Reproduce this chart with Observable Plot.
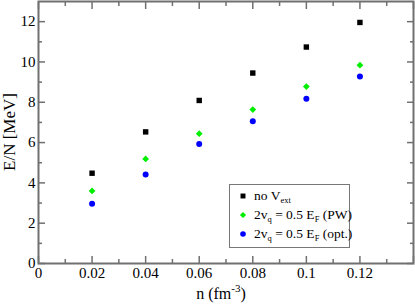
<!DOCTYPE html>
<html><head><meta charset="utf-8">
<script src="https://cdn.jsdelivr.net/npm/d3@7"></script>
<script src="https://cdn.jsdelivr.net/npm/@observablehq/plot@0.6"></script>
<style>
body{margin:0;background:#fff;}
#c{position:relative;width:415px;height:305px;font-family:'Liberation Serif','Times New Roman',serif;}
#c svg text{font-family:'Liberation Serif','Times New Roman',serif !important;}
#legend{position:absolute;left:229px;top:184px;width:119px;height:62px;border:1.5px solid #777;background:#fff;font-size:13.5px;color:#000;}
.row{position:absolute;left:0;height:19px;line-height:19px;white-space:nowrap;}
.row svg{position:absolute;left:8px;top:5px;}
.row span{position:absolute;left:24px;top:0;}
sub{font-size:8.5px;vertical-align:-3px;line-height:0;}
</style></head>
<body><div id="c"></div>
<script>
const density = [0.02, 0.04, 0.06, 0.08, 0.10, 0.12];
const noVext = [4.48, 6.53, 8.09, 9.45, 10.74, 11.96];
const pw     = [3.60, 5.19, 6.44, 7.64, 8.78, 9.84];
const opt    = [2.97, 4.41, 5.93, 7.06, 8.17, 9.28];
const xMajor = [0, 0.02, 0.04, 0.06, 0.08, 0.10, 0.12, 0.14];
const xMinor = [0.01, 0.03, 0.05, 0.07, 0.09, 0.11, 0.13];
const xLabels = ["0", "0.02", "0.04", "0.06", "0.08", "0.1", "0.12", ""];
const yMajor = [0, 2, 4, 6, 8, 10, 12];
const yMinor = [1, 3, 5, 7, 9, 11];
const yLabels = ["0", "2", "4", "6", "8", "10", "12"];
const series = [
  {name: "no V_ext", values: noVext, color: "#000000", symbol: "square"},
  {name: "2v_q = 0.5 E_F (PW)", values: pw, color: "#00ee00", symbol: "diamond2"},
  {name: "2v_q = 0.5 E_F (opt.)", values: opt, color: "#0000ff", symbol: "circle"}
];
const rows = series.flatMap(s => density.map((n, i) => ({n, e: s.values[i], s: s.name, color: s.color, symbol: s.symbol})));

const gray = "#707070";
const xfmt = d => xLabels[xMajor.indexOf(d)] ?? "";
const yfmt = d => yLabels[yMajor.indexOf(d)] ?? "";
const none = () => "";
const tick = {stroke: gray, strokeWidth: 1.5, label: null, tickFormat: none};
const font = "'Liberation Serif', 'Times New Roman', serif";

const plot = Plot.plot({
  width: 415, height: 305,
  marginLeft: 38, marginRight: 2, marginTop: 1, marginBottom: 42,
  style: {fontFamily: font, fontSize: "15px", background: "#fff", color: "#000"},
  x: {domain: [0, 0.14]},
  y: {domain: [0, 13]},
  marks: [
    Plot.axisX({anchor: "bottom", ticks: xMajor, tickSize: 0, tickPadding: 4, tickFormat: xfmt, label: null, fill: "#000", fontSize: 15}),
    Plot.axisY({anchor: "left", ticks: yMajor, tickSize: 0, tickPadding: 3, tickFormat: yfmt, label: null, fill: "#000", fontSize: 15}),
    Plot.axisX({anchor: "bottom", ticks: xMajor, tickSize: -7, ...tick}),
    Plot.axisX({anchor: "bottom", ticks: xMinor, tickSize: -4, ...tick}),
    Plot.axisX({anchor: "top", ticks: xMajor, tickSize: -7, ...tick}),
    Plot.axisX({anchor: "top", ticks: xMinor, tickSize: -4, ...tick}),
    Plot.axisY({anchor: "left", ticks: yMajor, tickSize: -7, ...tick}),
    Plot.axisY({anchor: "left", ticks: yMinor, tickSize: -4, ...tick}),
    Plot.axisY({anchor: "right", ticks: yMajor, tickSize: -7, ...tick}),
    Plot.axisY({anchor: "right", ticks: yMinor, tickSize: -4, ...tick}),
    Plot.frame({stroke: gray, strokeWidth: 2}),
    Plot.dot(rows, {x: "n", y: "e", fill: d => d.color, symbol: d => d.symbol, r: d => d.symbol === "circle" ? 2.7 : 2.8, stroke: null})
  ]
});
plot.setAttribute("style", (plot.getAttribute("style")||"") + ";position:absolute;left:0;top:0;");
const svg = d3.select(plot);
const xt = svg.append("text").attr("x", 221).attr("y", 299).attr("text-anchor", "middle")
  .attr("style", `font-family:${font};font-size:16px;fill:#000`);
xt.append("tspan").text("n (fm");
xt.append("tspan").attr("style", "font-size:11px").attr("baseline-shift", "7").text("-3");
xt.append("tspan").text(")");
svg.append("text").attr("transform", "translate(11,132) rotate(-90)").attr("text-anchor", "middle")
  .attr("dominant-baseline", "middle")
  .attr("style", `font-family:${font};font-size:17px;fill:#000`).text("E/N [MeV]");
const c = document.getElementById("c");
c.appendChild(plot);

const legend = document.createElement("div");
legend.id = "legend";
const labelsHtml = ["no V<sub>ext</sub>", "2v<sub>q</sub> = 0.5 E<sub>F</sub> (PW)", "2v<sub>q</sub> = 0.5 E<sub>F</sub> (opt.)"];
series.forEach((s, i) => {
  const row = document.createElement("div");
  row.className = "row";
  row.style.top = (1 + i * 19) + "px";
  const sym = d3.symbol(s.symbol === "square" ? d3.symbolSquare : s.symbol === "circle" ? d3.symbolCircle : d3.symbolDiamond2, Math.PI * 2.8 * 2.8)();
  row.innerHTML = `<svg width="10" height="10" viewBox="-5 -5 10 10"><path d="${sym}" fill="${s.color}"/></svg><span>${labelsHtml[i]}</span>`;
  legend.appendChild(row);
});
c.appendChild(legend);
</script></body></html>
